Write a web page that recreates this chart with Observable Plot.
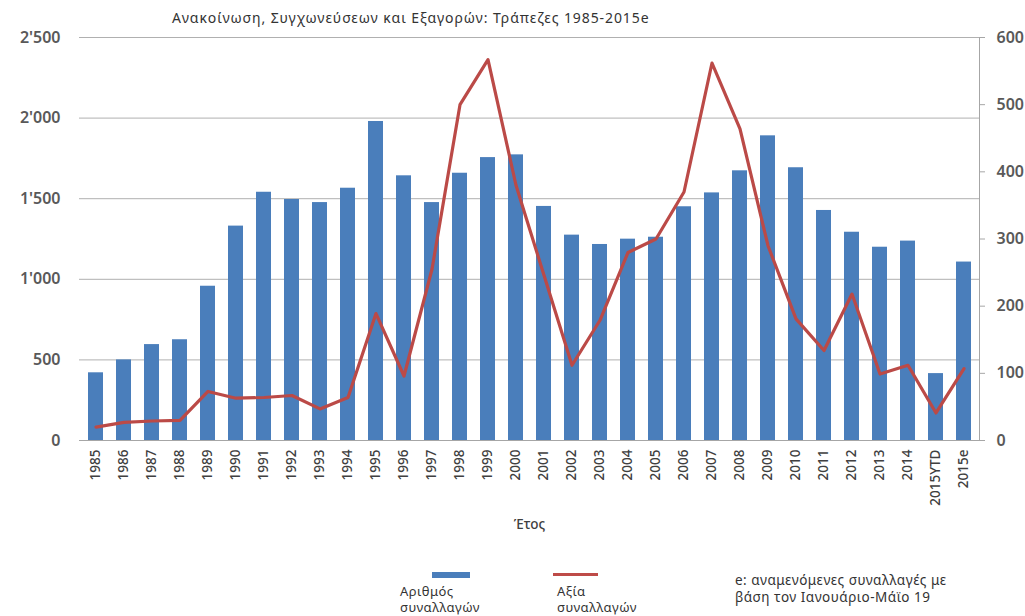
<!DOCTYPE html>
<html>
<head>
<meta charset="utf-8">
<script src="https://cdn.jsdelivr.net/npm/d3@7"></script>
<script src="https://cdn.jsdelivr.net/npm/@observablehq/plot@0.6"></script>
<style>
  body { margin: 0; background: #fff; }
  #chart { position: relative; width: 1025px; height: 616px; overflow: hidden; font-family: "Noto Sans", "Open Sans", sans-serif; }
  #chart svg { position: absolute; left: 0; top: 0; }
  .title { position: absolute; left: 172px; top: 8px; font-size: 14px; letter-spacing: 0.9px; color: #333; white-space: nowrap; }
  .legend-text { position: absolute; font-size: 13px; letter-spacing: 0.5px; line-height: 16px; color: #333; white-space: nowrap; }
  .swatch { position: absolute; }
</style>
</head>
<body>
<div id="chart">
  <div class="title">Ανακοίνωση, Συγχωνεύσεων και Εξαγορών: Τράπεζες 1985-2015e</div>
  <div class="swatch" style="left:432px;top:572px;width:38px;height:6px;background:#4a7ebb"></div>
  <div class="legend-text" style="left:400px;top:583px">Αριθμός<br>συναλλαγών</div>
  <div class="swatch" style="left:553px;top:573px;width:45px;height:3px;background:#be4b48"></div>
  <div class="legend-text" style="left:557px;top:583px">Αξία<br>συναλλαγών</div>
  <div class="legend-text" style="left:735px;top:572px;font-size:13.5px;line-height:17px">e: αναμενόμενες συναλλαγές με<br>βάση τον Ιανουάριο-Μάϊο 19</div>
</div>
<script>
// Categories (years) and the two series
const years = ["1985","1986","1987","1988","1989","1990","1991","1992","1993","1994",
  "1995","1996","1997","1998","1999","2000","2001","2002","2003","2004",
  "2005","2006","2007","2008","2009","2010","2011","2012","2013","2014",
  "2015YTD","2015e"];
// Number of deals (left axis)
const dealCount = [420, 500, 595, 625, 957, 1330, 1540, 1495, 1476, 1565,
  1979, 1642, 1476, 1658, 1755, 1772, 1452, 1274, 1216, 1249,
  1261, 1450, 1536, 1673, 1890, 1692, 1427, 1292, 1199, 1237,
  415, 1107];
// Value of deals (right axis)
const dealValue = [20, 27, 29, 30, 73, 63, 64, 67, 47, 64,
  189, 96, 255, 500, 567, 380, 246, 112, 179, 280,
  300, 370, 562, 464, 290, 181, 134, 218, 99, 112,
  41, 107];
// Axis ticks
const leftTicks = [0, 500, 1000, 1500, 2000, 2500];
const rightTicks = [0, 100, 200, 300, 400, 500, 600];

const leftMax = 2500, rightMax = 600;
const k = leftMax / rightMax; // maps the right-axis values onto the left scale

const fmt = d3.formatLocale({decimal: ".", thousands: "'", grouping: [3], currency: ["", ""]}).format(",");
const rows = years.map((y, i) => ({year: y, count: dealCount[i], value: dealValue[i]}));

const chart = Plot.plot({
  width: 1025,
  height: 616,
  marginTop: 37,
  marginRight: 46,
  marginBottom: 176,
  marginLeft: 79,
  style: {fontFamily: "'Noto Sans', 'Open Sans', sans-serif", background: "transparent", color: "#404040"},
  x: {type: "band", domain: years, paddingInner: 0.47, paddingOuter: 0.235},
  y: {domain: [0, leftMax]},
  marks: [
    Plot.gridY(leftTicks, {stroke: "#b0b0b0", strokeOpacity: 1}),
    Plot.barY(rows, {x: "year", y: "count", fill: "#4a7ebb"}),
    Plot.ruleY([0], {stroke: "#a6a6a6"}),
    Plot.frame({anchor: "right", stroke: "#a6a6a6"}),
    Plot.line(rows, {x: "year", y: d => d.value * k, stroke: "#bb4a47", strokeWidth: 3.2}),
    Plot.axisY(leftTicks, {anchor: "left", tickSize: 0, tickPadding: 19, tickFormat: fmt,
      fontSize: 16, fontWeight: 600, fill: "#595959", label: null}),
    Plot.axisY(rightTicks.map(t => t * k), {anchor: "right", tickSize: 5, tickPadding: 12,
      tickFormat: d => fmt(Math.round(d / k)), stroke: "#a6a6a6", fill: "#595959",
      fontSize: 16, fontWeight: 600, label: null}),
    Plot.axisX({tickRotate: -90, tickSize: 0, tickPadding: 9, fontSize: 13.5, fill: "#404040",
      label: "Έτος", labelAnchor: "center", labelOffset: 88, labelArrow: "none", fontWeight: 500})
  ]
});
document.getElementById("chart").prepend(chart);
</script>
</body>
</html>
